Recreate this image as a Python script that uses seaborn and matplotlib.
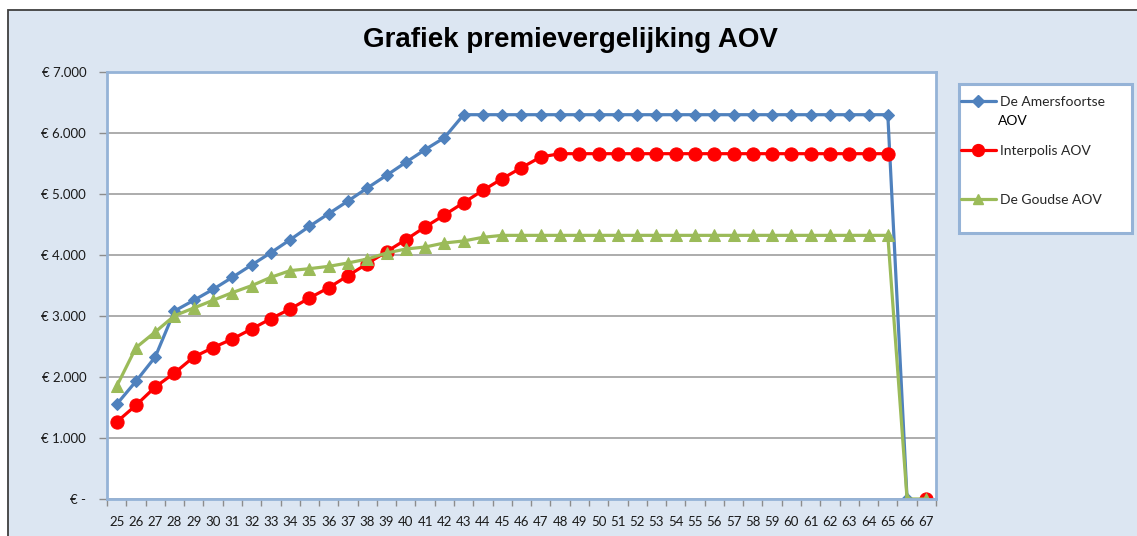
import numpy as np
import pandas as pd
import seaborn as sns
import matplotlib.pyplot as plt
from matplotlib.lines import Line2D
from matplotlib.patches import Rectangle

# leeftijden (x-as)
ages = list(range(25, 68))

# premies per jaar (NaN = geen waarde)
amersfoortse = [1552, 1929, 2328, 3082, 3257, 3437, 3634, 3836, 4038, 4251,
                4470, 4678, 4885, 5098, 5306, 5519, 5727, 5923, 6300, 6300,
                6300, 6300, 6300, 6300, 6300, 6300, 6300, 6300, 6300, 6300,
                6300, 6300, 6300, 6300, 6300, 6300, 6300, 6300, 6300, 6300,
                6300, 0, np.nan]
interpolis = [1262, 1536, 1836, 2066, 2328, 2481, 2623, 2787, 2956, 3115,
              3295, 3464, 3661, 3858, 4055, 4251, 4459, 4656, 4858, 5060,
              5251, 5432, 5607, 5661, 5661, 5661, 5661, 5661, 5661, 5661,
              5661, 5661, 5661, 5661, 5661, 5661, 5661, 5661, 5661, 5661,
              5661, np.nan, 0]
goudse = [1847, 2481, 2738, 3005, 3131, 3257, 3383, 3497, 3634, 3744,
          3776, 3814, 3869, 3934, 4033, 4098, 4131, 4197, 4230, 4290,
          4322, 4322, 4322, 4322, 4322, 4322, 4322, 4322, 4322, 4322,
          4322, 4322, 4322, 4322, 4322, 4322, 4322, 4322, 4322, 4322,
          4322, 0, 0]

series_names = ['De Amersfoortse', 'Interpolis AOV', 'De Goudse AOV']
name_extra = 'AOV'  # tweede regel van de eerste legenda-naam
y_ticks = [0, 1000, 2000, 3000, 4000, 5000, 6000, 7000]
y_labels = ['€ -', '€ 1.000', '€ 2.000', '€ 3.000', '€ 4.000', '€ 5.000', '€ 6.000', '€ 7.000']

styles = [
    dict(color='#4F81BD', marker='D', markersize=6.5),
    dict(color='#FF0000', marker='o', markersize=9.5),
    dict(color='#9BBB59', marker='^', markersize=8.5),
]

sns.set_theme(style='white')
plt.rcParams['font.family'] = ['Lato', 'DejaVu Sans']

W, H = 1137, 536
fig = plt.figure(figsize=(W / 100, H / 100), dpi=100)
fig.patch.set_facecolor('white')

# achtergrond van het grafiekgebied met donkere rand
fig.add_artist(Rectangle((8 / W, -0.1), 1.2, 1 - 10 / H + 0.1, transform=fig.transFigure,
                         facecolor='#DCE6F2', edgecolor='#3F3F3F', linewidth=1.3, zorder=-2))
# kader voor de legenda
fig.add_artist(Rectangle((959 / W, 1 - 233 / H), 173 / W, 149 / H, transform=fig.transFigure,
                         facecolor='white', edgecolor='#95B3D7', linewidth=2.2, zorder=1))

ax = fig.add_axes([107 / W, 1 - 499 / H, (936 - 107) / W, (499 - 72) / H])
ax.set_facecolor('white')

for values, name, st in zip([amersfoortse, interpolis, goudse], series_names, styles):
    d = pd.DataFrame({'age': ages, 'premie': values})
    d['seg'] = d['premie'].isna().cumsum()
    d = d.dropna()
    sns.lineplot(data=d, x='age', y='premie', units='seg', estimator=None, ax=ax,
                 color=st['color'], marker=st['marker'], markersize=st['markersize'],
                 markeredgecolor=st['color'], linewidth=2.3, legend=False)

ax.set_xlim(24.5, 67.5)
ax.set_ylim(0, 7000)
ax.set_yticks(y_ticks)
ax.set_yticklabels(y_labels)
ax.set_xticks(ages)
ax.set_xticklabels([str(a) for a in ages])
ax.set_xticks([a + 0.5 for a in range(24, 68)], minor=True)
ax.tick_params(axis='x', which='major', length=0, pad=12, labelsize=9.5, colors='#1a1a1a')
ax.tick_params(axis='x', which='minor', length=5, width=1, color='#8C8C8C', direction='out', bottom=True)
ax.tick_params(axis='y', length=6, width=1, color='#8C8C8C', direction='out', pad=9,
               labelsize=9.5, labelcolor='#1a1a1a', left=True)
ax.set_xlabel('')
ax.set_ylabel('')
ax.yaxis.grid(True, color='#A6A6A6', linewidth=1.3)
ax.xaxis.grid(False)
ax.set_axisbelow(True)
for side in ['left', 'right', 'top', 'bottom']:
    ax.spines[side].set_visible(True)
    ax.spines[side].set_color('#95B3D7')
    ax.spines[side].set_linewidth(2)

fig.text(0.502, 1 - 40 / H, 'Grafiek premievergelijking AOV', ha='center', va='center',
         fontsize=20, fontweight='bold', color='black', family='Liberation Sans')

handles = [Line2D([], [], color=st['color'], marker=st['marker'], markersize=st['markersize'] * 0.9,
                  markeredgecolor=st['color'], linewidth=2.3) for st in styles]
fig.legend(handles, series_names, loc='upper left', bbox_to_anchor=(961 / W, 1 - 96 / H),
           frameon=False, fontsize=10, handlelength=2.5, handletextpad=0.3,
           labelspacing=2.66, borderaxespad=0, borderpad=0)
fig.text(998 / W, 1 - 121 / H, name_extra, ha='left', va='center', fontsize=10, color='black')

plt.savefig('out.png', dpi=100, facecolor=fig.get_facecolor())
